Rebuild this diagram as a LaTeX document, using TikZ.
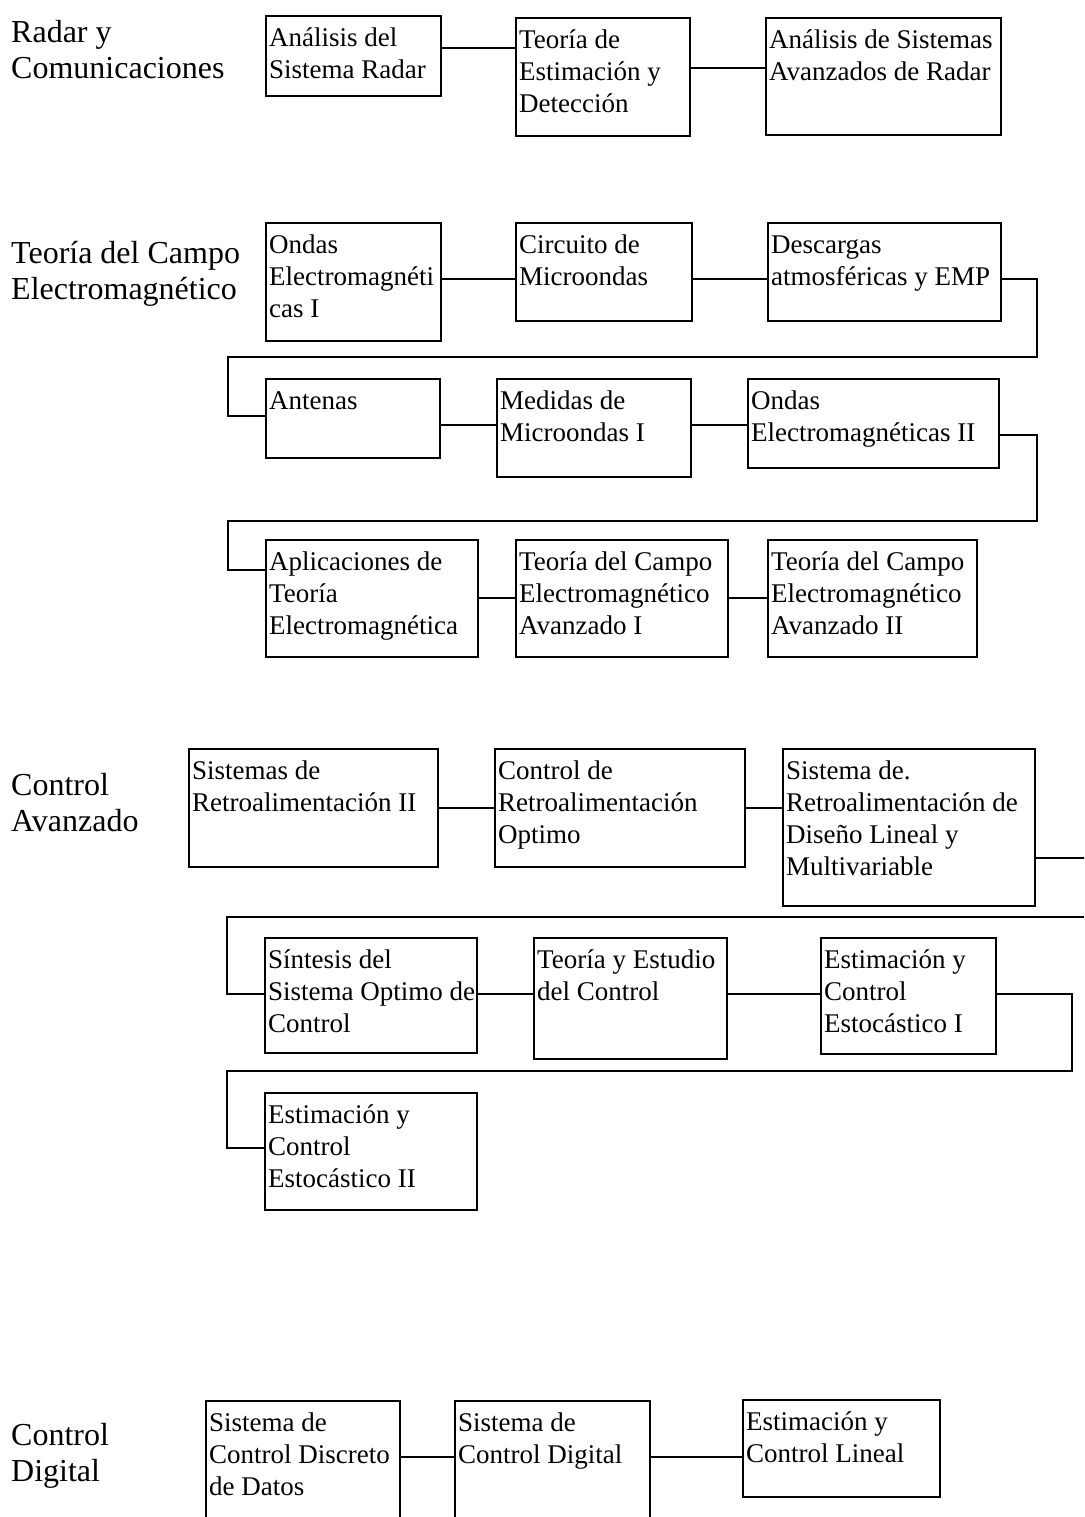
\documentclass[tikz,border=0pt]{standalone}
\usepackage{fontspec}
\setmainfont{Liberation Serif}
\newcommand{\boxstrut}{\rule{0pt}{25pt}}
\newcommand{\groupstrut}{\rule{0pt}{22pt}}
\tikzset{
  course/.style 2 args={draw, rectangle, line width=2.9pt, anchor=north west,
    inner sep=0pt, outer sep=0pt, minimum width=#1, minimum height=#2},
  ctext/.style={anchor=north west, align=left, inner xsep=3pt, inner ysep=5pt,
    font=\fontsize{27}{32}\selectfont},
  group/.style={anchor=north west, align=left, inner sep=0pt,
    font=\fontsize{32}{36}\selectfont},
  link/.style={line width=2.9pt},
}
\begin{document}
\begin{tikzpicture}[x=1pt,y=-1pt]
\useasboundingbox (0,0) rectangle (1084,1517);
\clip (0,0) rectangle (1084,1517);
% -- define bends
\coordinate (w1) at (228,357);
\coordinate (w2) at (228,521);
\coordinate (w3) at (227,917);
\coordinate (w4) at (227,1071);
% -- radar y comunicaciones
\node[group] (g1) at (11,20) {\groupstrut Radar y\\Comunicaciones};
\node[course={175pt}{80pt}] (a1) at (266,16) {};
\node[course={174pt}{118pt}] (a2) at (516,18) {};
\node[course={235pt}{117pt}] (a3) at (766,18) {};
\node[ctext] (a1t) at (a1.north west) {\boxstrut An\'alisis del\\Sistema Radar};
\node[ctext] (a2t) at (a2.north west) {\boxstrut Teor\'ia de\\Estimaci\'on y\\Detecci\'on};
\node[ctext] (a3t) at (a3.north west) {\boxstrut An\'alisis de Sistemas\\Avanzados de Radar};
\draw[link] (a1.east |- 0,48) -- (a2.west |- 0,48);
\draw[link] (a2.east |- 0,68) -- (a3.west |- 0,68);
% -- teoria del campo electromagnetico
\node[group] (g2) at (11,241) {\groupstrut Teor\'ia del Campo\\Electromagn\'etico};
\node[course={175pt}{118pt}] (b1) at (266,223) {};
\node[course={176pt}{98pt}] (b2) at (516,223) {};
\node[course={233pt}{98pt}] (b3) at (768,223) {};
\node[course={174pt}{79pt}] (b4) at (266,379) {};
\node[course={194pt}{98pt}] (b5) at (497,379) {};
\node[course={251pt}{89pt}] (b6) at (748,379) {};
\node[course={212pt}{117pt}] (b7) at (266,540) {};
\node[course={212pt}{117pt}] (b8) at (516,540) {};
\node[course={209pt}{117pt}] (b9) at (768,540) {};
\node[ctext] (b1t) at (b1.north west) {\boxstrut Ondas\\Electromagn\'eti\\cas I};
\node[ctext] (b2t) at (b2.north west) {\boxstrut Circuito de\\Microondas};
\node[ctext] (b3t) at (b3.north west) {\boxstrut Descargas\\atmosf\'ericas y EMP};
\node[ctext] (b4t) at (b4.north west) {\boxstrut Antenas};
\node[ctext] (b5t) at (b5.north west) {\boxstrut Medidas de\\Microondas I};
\node[ctext] (b6t) at (b6.north west) {\boxstrut Ondas\\Electromagn\'eticas II};
\node[ctext] (b7t) at (b7.north west) {\boxstrut Aplicaciones de\\Teor\'ia\\Electromagn\'etica};
\node[ctext] (b8t) at (b8.north west) {\boxstrut Teor\'ia del Campo\\Electromagn\'etico\\Avanzado I};
\node[ctext] (b9t) at (b9.north west) {\boxstrut Teor\'ia del Campo\\Electromagn\'etico\\Avanzado II};
\draw[link] (b1.east |- 0,279) -- (b2.west |- 0,279);
\draw[link] (b2.east |- 0,279) -- (b3.west |- 0,279);
\draw[link] (b3.east |- 0,279) -- ++(36,0) |- (w1) |- (b4.west |- 0,416);
\draw[link] (b4.east |- 0,425) -- (b5.west |- 0,425);
\draw[link] (b5.east |- 0,425) -- (b6.west |- 0,425);
\draw[link] (b6.east |- 0,435) -- ++(38,0) |- (w2) |- (b7.west |- 0,570);
\draw[link] (b7.east |- 0,598) -- (b8.west |- 0,598);
\draw[link] (b8.east |- 0,598) -- (b9.west |- 0,598);
% -- control avanzado
\node[group] (g3) at (11,773) {\groupstrut Control\\Avanzado};
\node[course={249pt}{118pt}] (c1) at (189,749) {};
\node[course={250pt}{118pt}] (c2) at (495,749) {};
\node[course={252pt}{157pt}] (c3) at (783,749) {};
\node[course={212pt}{115pt}] (c4) at (265,938) {};
\node[course={193pt}{121pt}] (c5) at (534,938) {};
\node[course={175pt}{116pt}] (c6) at (821,938) {};
\node[course={212pt}{117pt}] (c7) at (265,1093) {};
\node[ctext] (c1t) at (c1.north west) {\boxstrut Sistemas de\\Retroalimentaci\'on II};
\node[ctext] (c2t) at (c2.north west) {\boxstrut Control de\\Retroalimentaci\'on\\Optimo};
\node[ctext] (c3t) at (c3.north west) {\boxstrut Sistema de.\\Retroalimentaci\'on de\\Dise\~no Lineal y\\Multivariable};
\node[ctext] (c4t) at (c4.north west) {\boxstrut S\'intesis del\\Sistema Optimo de\\Control};
\node[ctext] (c5t) at (c5.north west) {\boxstrut Teor\'ia y Estudio\\del Control};
\node[ctext] (c6t) at (c6.north west) {\boxstrut Estimaci\'on y\\Control\\Estoc\'astico I};
\node[ctext] (c7t) at (c7.north west) {\boxstrut Estimaci\'on y\\Control\\Estoc\'astico II};
\draw[link] (c1.east |- 0,808) -- (c2.west |- 0,808);
\draw[link] (c2.east |- 0,808) -- (c3.west |- 0,808);
\draw[link] (c3.east |- 0,858) -- ++(62,0) |- (w3) |- (c4.west |- 0,994);
\draw[link] (c4.east |- 0,994) -- (c5.west |- 0,994);
\draw[link] (c5.east |- 0,994) -- (c6.west |- 0,994);
\draw[link] (c6.east |- 0,994) -- ++(76,0) |- (w4) |- (c7.west |- 0,1148);
% -- control digital
\node[group] (g4) at (11,1423) {\groupstrut Control\\Digital};
\node[course={194pt}{130pt}] (d1) at (206,1401) {};
\node[course={195pt}{130pt}] (d2) at (455,1401) {};
\node[course={197pt}{97pt}] (d3) at (743,1400) {};
\node[ctext] (d1t) at (d1.north west) {\boxstrut Sistema de\\Control Discreto\\de Datos};
\node[ctext] (d2t) at (d2.north west) {\boxstrut Sistema de\\Control Digital};
\node[ctext] (d3t) at (d3.north west) {\boxstrut Estimaci\'on y\\Control Lineal};
\draw[link] (d1.east |- 0,1457) -- (d2.west |- 0,1457);
\draw[link] (d2.east |- 0,1457) -- (d3.west |- 0,1457);
\end{tikzpicture}
\end{document}
